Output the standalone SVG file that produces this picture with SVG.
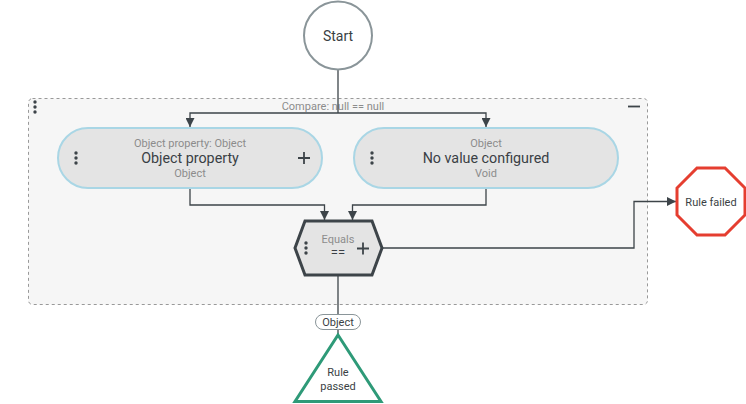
<svg xmlns="http://www.w3.org/2000/svg" width="746" height="404" viewBox="0 0 746 404">
<style>
text{font-family:Roboto,"Liberation Sans",sans-serif;}
.conn{fill:none;stroke:#3d4449;stroke-width:1.3;}
.pill{fill:#e4e4e4;stroke:#a9d6e5;stroke-width:2;}
.sub{font-size:11px;fill:#8c8c8c;text-anchor:middle;}
.main{font-size:14.3px;fill:#3a3f44;text-anchor:middle;}
.dot{fill:#3d4449;}
.plus{stroke:#3d4449;stroke-width:1.8;}
</style>
<defs>
<marker id="arr" viewBox="0 0 10 10" refX="10" refY="5" markerWidth="9" markerHeight="9" markerUnits="userSpaceOnUse" orient="auto">
<path d="M0,0 L10,5 L0,10 z" fill="#3d4449"/>
</marker>
<g id="dots3"><circle cx="0" cy="-5" r="1.7"/><circle cx="0" cy="0" r="1.7"/><circle cx="0" cy="5" r="1.7"/></g>
</defs>
<rect width="746" height="404" fill="#ffffff"/>
<g id="group-compare">
<rect x="28.5" y="98.5" width="619" height="206" rx="4" fill="#f6f6f6" stroke="#999" stroke-width="1" stroke-dasharray="3,3"/>
<text x="333" y="110" font-size="11" fill="#8c8c8c" text-anchor="middle">Compare: null == null</text>
<use href="#dots3" x="35" y="107" class="dot"/>
<line x1="628" y1="106.5" x2="640" y2="106.5" stroke="#3d4449" stroke-width="1.8"/>
</g>
<g id="connectors">
<path class="conn" d="M338,70 V113"/>
<path class="conn" d="M338,113 H190 V127" marker-end="url(#arr)"/>
<path class="conn" d="M338,113 H486 V127" marker-end="url(#arr)"/>
<path class="conn" d="M190,189 V205 H324.5 V220" marker-end="url(#arr)"/>
<path class="conn" d="M486,189 V205 H352.5 V220" marker-end="url(#arr)"/>
<path class="conn" d="M382,248 H634 V201.5 H676" marker-end="url(#arr)"/>
<path class="conn" d="M338,276 V314"/>
<path class="conn" d="M338,330 V334"/>
</g>
<g id="start">
<circle cx="338" cy="35.5" r="34" fill="#ffffff" stroke="#8a9599" stroke-width="2"/>
<text x="338" y="40.5" font-size="14" fill="#3a3f44" text-anchor="middle">Start</text>
</g>
<g id="node-object-property">
<rect class="pill" x="58" y="128" width="264" height="60" rx="30"/>
<text class="sub" x="190" y="147">Object property: Object</text>
<text class="main" x="190" y="163">Object property</text>
<text class="sub" x="190" y="177">Object</text>
<use href="#dots3" x="76" y="158" class="dot"/>
<path class="plus" d="M298,158 H310 M304,152 V164"/>
</g>
<g id="node-no-value">
<rect class="pill" x="354" y="128" width="264" height="60" rx="30"/>
<text class="sub" x="486" y="147">Object</text>
<text class="main" x="486" y="163">No value configured</text>
<text class="sub" x="486" y="177">Void</text>
<use href="#dots3" x="372" y="158" class="dot"/>
</g>
<g id="node-equals">
<polygon points="305,221 372,221 382,248 372,275 305,275 295,248" fill="#e4e4e4" stroke="#3d4449" stroke-width="3" stroke-linejoin="miter"/>
<text class="sub" x="338" y="243">Equals</text>
<text x="338" y="257" font-size="13" fill="#3a3f44" text-anchor="middle">==</text>
<use href="#dots3" x="306" y="248" class="dot"/>
<path class="plus" d="M357,248.5 H369 M363,242.5 V254.5"/>
</g>
<g id="rule-failed">
<polygon points="697,168 725,168 745,188 745,215 725,235 697,235 677,215 677,188" fill="#ffffff" stroke="#e53e30" stroke-width="3"/>
<text x="711" y="205.5" font-size="11" fill="#3a3f44" text-anchor="middle">Rule failed</text>
</g>
<g id="label-object">
<rect x="315.5" y="314.5" width="45" height="15" rx="7.5" fill="#ffffff" stroke="#8a9599" stroke-width="1"/>
<text x="338" y="326" font-size="11" fill="#3a3f44" text-anchor="middle">Object</text>
</g>
<g id="rule-passed">
<polygon points="338,335 381,401.5 295,401.5" fill="#ffffff" stroke="#2e9a78" stroke-width="3" stroke-linejoin="miter"/>
<text x="338" y="376" font-size="11" fill="#3a3f44" text-anchor="middle">Rule</text>
<text x="338" y="390" font-size="11" fill="#3a3f44" text-anchor="middle">passed</text>
</g>
</svg>
